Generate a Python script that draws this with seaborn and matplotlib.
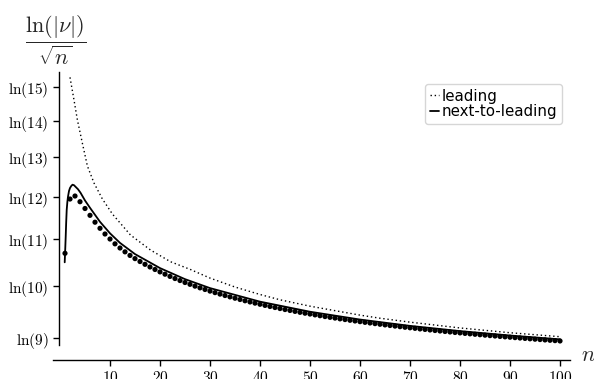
import numpy as np
import pandas as pd
import matplotlib
matplotlib.use("Agg")
import matplotlib.pyplot as plt
import seaborn as sns

# ---- data ----
n_exact = list(range(1, 101))
v_exact = [
    2.3696, 2.4801, 2.4862, 2.4746, 2.4608, 2.4469, 2.4329, 2.4205, 2.4089, 2.3987,
    2.3889, 2.3804, 2.3726, 2.3653, 2.3588, 2.3529, 2.3472, 2.3418, 2.3367, 2.3318,
    2.3271, 2.3226, 2.3183, 2.3142, 2.3102, 2.3065, 2.3028, 2.2993, 2.2960, 2.2927,
    2.2896, 2.2866, 2.2837, 2.2809, 2.2782, 2.2756, 2.2730, 2.2706, 2.2682, 2.2659,
    2.2636, 2.2614, 2.2593, 2.2572, 2.2552, 2.2533, 2.2514, 2.2495, 2.2477, 2.2460,
    2.2443, 2.2426, 2.2409, 2.2393, 2.2378, 2.2362, 2.2348, 2.2333, 2.2319, 2.2305,
    2.2291, 2.2278, 2.2265, 2.2252, 2.2239, 2.2227, 2.2215, 2.2203, 2.2191, 2.2180,
    2.2169, 2.2157, 2.2147, 2.2136, 2.2125, 2.2115, 2.2105, 2.2095, 2.2085, 2.2076,
    2.2066, 2.2057, 2.2048, 2.2039, 2.2030, 2.2021, 2.2013, 2.2004, 2.1996, 2.1988,
    2.1980, 2.1972, 2.1964, 2.1956, 2.1948, 2.1941, 2.1933, 2.1926, 2.1919, 2.1912,
]

n_leading = [2.0, 2.8, 3.48, 4.48, 5.48, 6.8, 8.48, 10.48, 14.1, 18.1, 22.1, 26.1,
             30, 35, 40, 44, 50, 60, 64, 70, 80, 90, 100]
v_leading = [2.7277, 2.6816, 2.6409, 2.5934, 2.5472, 2.5127, 2.4801, 2.4496, 2.4068,
             2.3763, 2.3525, 2.3366, 2.3192, 2.3010, 2.2858, 2.2750, 2.2620, 2.2438,
             2.2375, 2.2295, 2.2177, 2.2080, 2.1999]

n_nlo = [0.94, 1.04, 1.14, 1.24, 1.34, 1.47, 1.6, 1.8, 2.0, 2.25, 2.5, 2.8, 3.1, 3.6,
         4.1, 5, 6, 8, 10, 12, 15, 20, 25, 30, 40, 50, 60, 70, 80, 90, 100]
v_nlo = [2.3513, 2.3763, 2.4034, 2.4333, 2.4578, 2.4740, 2.4848, 2.4964, 2.5025,
         2.5066, 2.5092, 2.5082, 2.5051, 2.5000, 2.4929, 2.4771, 2.4622, 2.4337,
         2.4103, 2.3908, 2.3680, 2.3395, 2.3170, 2.2988, 2.2712, 2.2507, 2.2348,
         2.2219, 2.2113, 2.2023, 2.1945]

ytick_ints = [9, 10, 11, 12, 13, 14, 15]
ytick_labels = [r"$\ln(%d)$" % k for k in ytick_ints]
xticks = [10, 20, 30, 40, 50, 60, 70, 80, 90, 100]

# ---- plot ----
sns.set_theme(style="ticks")
plt.rcParams["font.family"] = ["DejaVu Sans"]
plt.rcParams["mathtext.fontset"] = "cm"

W, H = 594, 379
fig = plt.figure(figsize=(W / 100, H / 100), dpi=100)
ax = fig.add_axes([53 / W, 1 - 345 / H, (570 - 53) / W, (345 - 72) / H])

df_exact = pd.DataFrame({"n": n_exact, "v": v_exact})
df_lead = pd.DataFrame({"n": n_leading, "v": v_leading})
df_nlo = pd.DataFrame({"n": n_nlo, "v": v_nlo})

sns.lineplot(data=df_lead, x="n", y="v", ax=ax, color="black", lw=1.0,
             linestyle=(0, (1, 2)), estimator=None, sort=False, label="leading")
sns.lineplot(data=df_nlo, x="n", y="v", ax=ax, color="black", lw=1.3,
             estimator=None, sort=False, label="next-to-leading")
sns.scatterplot(data=df_exact, x="n", y="v", ax=ax, color="black", s=14,
                edgecolor="none", zorder=3)

ax.set_xlim(-1.4, 102)
ax.set_ylim(2.1830, 2.7386)
ax.set_yticks(np.log(ytick_ints))
ax.set_yticklabels(ytick_labels, fontsize=10)
ax.set_xticks(xticks)
ax.set_xticklabels([r"$%d$" % t for t in xticks], fontsize=10)
ax.set_xlabel("")
ax.set_ylabel("")

sns.despine(ax=ax)
ax.spines["bottom"].set_position(("outward", 10.8))
ax.spines["left"].set_position(("axes", 6 / (570 - 53)))
for s in ["left", "bottom"]:
    ax.spines[s].set_linewidth(1.0)
    ax.spines[s].set_color("black")
ax.tick_params(axis="both", colors="black", width=1.0, length=4.5, pad=3)

leg = ax.legend(loc="upper right", bbox_to_anchor=(562 / W, 1 - 84 / H),
                bbox_transform=fig.transFigure, borderaxespad=0,
                handlelength=0.6, handletextpad=0.2, fontsize=10.8,
                frameon=True, borderpad=0.3, labelspacing=0.05,
                labelcolor="black")
leg.get_frame().set_edgecolor("#cccccc")
leg.get_frame().set_linewidth(1.0)

fig.text(56 / W, 1 - 40 / H, r"$\dfrac{\ln(|\nu|)}{\sqrt{n}}$", ha="center",
         va="center", fontsize=16)
fig.text(588 / W, 1 - 355 / H, r"$n$", ha="center", va="center", fontsize=16)

fig.savefig("out.png", dpi=100)
